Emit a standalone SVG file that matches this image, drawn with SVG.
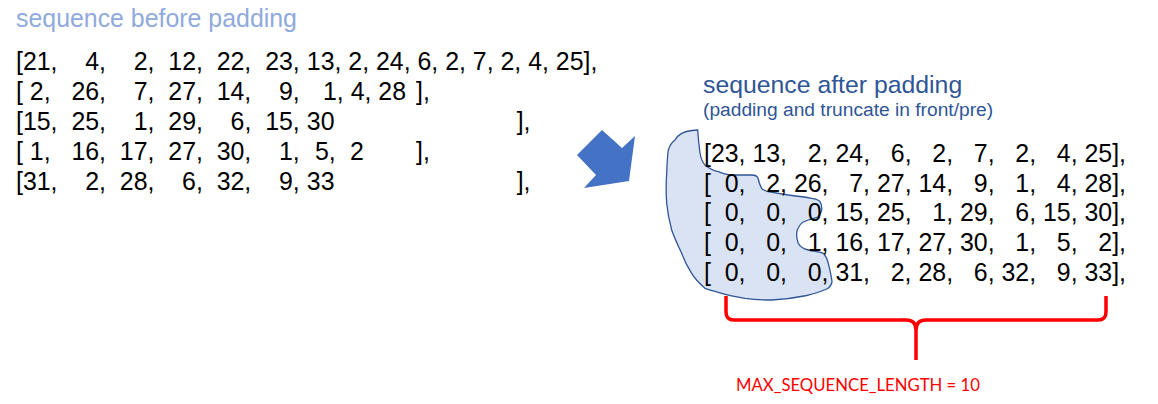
<svg xmlns="http://www.w3.org/2000/svg" width="1158" height="404" viewBox="0 0 1158 404">
<style>
.t{font-family:"Liberation Sans",Arial,sans-serif;font-size:24.9px;fill:#000}
.h1{font-family:"Liberation Sans",Arial,sans-serif;font-size:24.9px;fill:#8FAADC}
.h2{font-family:"Liberation Sans",Arial,sans-serif;font-size:24.8px;fill:#2F5597}
.h3{font-family:"Liberation Sans",Arial,sans-serif;font-size:19.2px;fill:#2F5597}
.lbl{font-family:Lato,"Open Sans",sans-serif;font-size:18px;fill:#FF0000}
.pre{white-space:pre}
</style>
<rect width="1158" height="404" fill="#FFFFFF"/>
<g id="before">
<text class="h1" x="16" y="27">sequence before padding</text>
<text class="t" y="70"><tspan x="16">[21,</tspan><tspan x="85.2">4,</tspan><tspan x="133.7">2,</tspan><tspan x="168.3">12,</tspan><tspan x="216.7">22,</tspan><tspan x="265.2">23,</tspan><tspan x="306.8">13, 2, 24, 6, 2, 7, 2, 4, 25],</tspan></text>
<text class="t" y="100"><tspan x="16">[</tspan><tspan x="29.8">2,</tspan><tspan x="71.4">26,</tspan><tspan x="133.7">7,</tspan><tspan x="168.3">27,</tspan><tspan x="216.7">14,</tspan><tspan x="279">9,</tspan><tspan x="323">1, 4, 28</tspan><tspan x="416">],</tspan></text>
<text class="t" y="130"><tspan x="16">[15,</tspan><tspan x="71.4">25,</tspan><tspan x="133.7">1,</tspan><tspan x="168.3">29,</tspan><tspan x="230.6">6,</tspan><tspan x="265.2">15,</tspan><tspan x="306.8">30</tspan><tspan x="516.7">],</tspan></text>
<text class="t" y="160"><tspan x="16">[</tspan><tspan x="29.8">1,</tspan><tspan x="71.4">16,</tspan><tspan x="119.8">17,</tspan><tspan x="168.3">27,</tspan><tspan x="216.7">30,</tspan><tspan x="279">1,</tspan><tspan x="315">5,</tspan><tspan x="350">2</tspan><tspan x="416">],</tspan></text>
<text class="t" y="190"><tspan x="16">[31,</tspan><tspan x="85.2">2,</tspan><tspan x="119.8">28,</tspan><tspan x="182.1">6,</tspan><tspan x="216.7">32,</tspan><tspan x="279">9,</tspan><tspan x="306.8">33</tspan><tspan x="516.7">],</tspan></text>
</g>
<g id="arrow">
<polygon points="602,130 622,148 635,136 629,181 584,188 596,175 577,155" fill="#4472C4"/>
</g>
<g id="after">
<text class="h2" x="703" y="93">sequence after padding</text>
<text class="h3" x="703" y="116">(padding and truncate in front/pre)</text>
<path id="blob" d="M675,140 C679,133 686,131 692,130.5 L697.7,130 C698,135 698.5,142 700,153 C701,159 703,163 705,165 C710,169 714,171 718.3,171.7 C724,174 728,175 731.7,175 L751.7,175 C755,175 757,176 758,178 C759,182 760,186 761.7,188.3 C763,190 765,191 768,191.7 L788.3,195 C797,196 805,197 811.7,198.3 C817,199 819,200 820,201.7 C821.5,204 822,207 821.7,210 C821,213 820,215 818.3,216.7 C815,218.5 811,219 808.3,220 C804,221.5 801,223 800,225 C797.5,229 796.5,231 796.7,233.3 C796.5,237 797,240 798.3,243.3 C800,247 804,249 808.3,250 C815,251.5 820,252 823.3,253.3 C826,256 827.5,259 828.3,263.3 C830,270 831.5,276 832,282 C831,286 829,288 826.7,289 C820,292 813,294 806.7,295.5 C795,298 783,299.5 771.7,300 C760,300 750,299 745,298.3 C735,296.5 727,295 721.7,293.3 C714,291 709,290 705,288.3 C699,283 695,279 691.7,273.3 C687,266 684,260 681.7,253.3 C677,243 674,237 671.7,230 C669,220 667.5,212 666.7,203.3 C666,193 666,183 666.7,173.3 C667,163 667.5,156 668.3,150 C670,145 672,142 675,140 Z" fill="#DAE3F3" stroke="#2F5597" stroke-width="1.3"/>
<text class="t pre" x="704" y="162" xml:space="preserve">[23, 13,   2, 24,   6,   2,   7,   2,   4, 25],</text>
<text class="t pre" x="704" y="191.7" xml:space="preserve">[  0,   2, 26,   7, 27, 14,   9,   1,   4, 28],</text>
<text class="t pre" x="704" y="221.4" xml:space="preserve">[  0,   0,   0, 15, 25,   1, 29,   6, 15, 30],</text>
<text class="t pre" x="704" y="251.1" xml:space="preserve">[  0,   0,   1, 16, 17, 27, 30,   1,   5,   2],</text>
<text class="t pre" x="704" y="280.8" xml:space="preserve">[  0,   0,   0, 31,   2, 28,   6, 32,   9, 33],</text>
</g>
<g id="connectors">
<path d="M726,296 V312 Q726,320 734,320 H906 Q916,320 916,330 V360 M916,330 Q916,320 926,320 H1098 Q1106,320 1106,312 V296" fill="none" stroke="#FF0000" stroke-width="3.5" stroke-linecap="butt"/>
</g>
<g id="label">
<text class="lbl" x="736" y="391" textLength="244" lengthAdjust="spacingAndGlyphs">MAX_SEQUENCE_LENGTH = 10</text>
</g>
</svg>
